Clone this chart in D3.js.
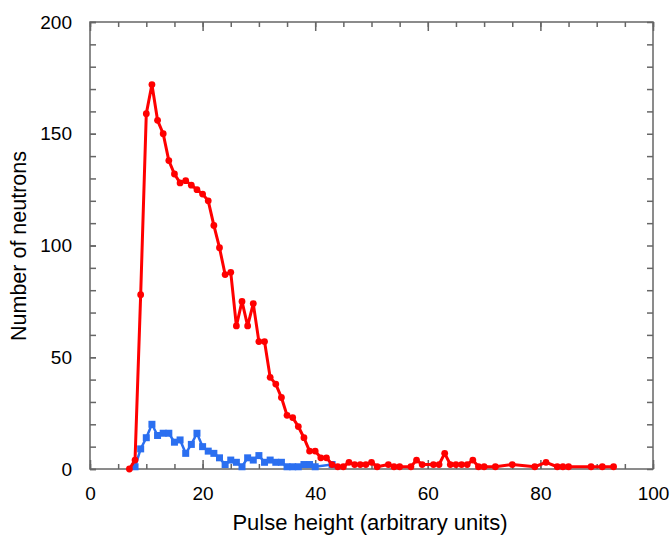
<!DOCTYPE html>
<html>
<head>
<meta charset="utf-8">
<script src="https://cdn.jsdelivr.net/npm/d3@7"></script>
<style>
  body { margin: 0; background: #fff; }
  svg { display: block; font-family: "Liberation Sans", Arial, sans-serif; }
</style>
</head>
<body>
<main></main>
<script>
// red series (circles)
var redX = [7, 8, 9, 10, 11, 12, 13, 14, 15, 16, 17, 18, 19, 20, 21, 22, 23, 24, 25, 26,
    27, 28, 29, 30, 31, 32, 33, 34, 35, 36, 37, 38, 39, 40, 41, 42, 43, 44, 45, 46,
    47, 48, 49, 50, 51, 53, 54, 55, 57, 58, 59, 61, 62, 63, 64, 65, 66, 67, 68, 69,
    70, 72, 75, 79, 81, 83, 84, 85, 89, 91, 93];
var redY = [0, 4, 78, 159, 172, 156, 150, 138, 132, 128, 129, 127, 125, 123, 120, 109, 99, 87, 88, 64,
    75, 64, 74, 57, 57, 41, 38, 32, 24, 23, 19, 14, 8, 8, 5, 5, 2, 1, 1, 3,
    2, 2, 2, 3, 1, 2, 1, 1, 1, 4, 2, 2, 2, 7, 2, 2, 2, 2, 4, 1,
    1, 1, 2, 1, 3, 1, 1, 1, 1, 1, 1];

// blue series (squares)
var blueX = [8, 9, 10, 11, 12, 13, 14, 15, 16, 17, 18, 19, 20, 21, 22, 23, 24, 25, 26, 27,
    28, 29, 30, 31, 32, 33, 34, 35, 36, 37, 38, 39, 40, 43];
var blueY = [1, 9, 14, 20, 15, 16, 16, 12, 13, 7, 11, 16, 10, 8, 7, 5, 2, 4, 3, 1,
    5, 4, 6, 3, 4, 3, 3, 1, 1, 1, 2, 2, 1, 2];

var xMajor = [0, 20, 40, 60, 80, 100];
var yMajor = [0, 50, 100, 150, 200];

var W = 670, H = 537;
var m = {l: 90, r: 17, t: 22, b: 68};
var w = W - m.l - m.r, h = H - m.t - m.b;

var svg = d3.select('main').append('svg')
    .attr('width', W)
    .attr('height', H);

var x = d3.scaleLinear().domain([0, 100]).range([0, w]);
var y = d3.scaleLinear().domain([0, 200]).range([h, 0]);

var g = svg.append('g').attr('transform', 'translate(' + m.l + ',' + m.t + ')');

// ticks on all four sides, pointing inward
const tickStyle = sel => {
    sel.select('.domain').remove();
    sel.selectAll('line').attr('stroke', '#666').attr('stroke-width', 1.5);
    sel.selectAll('text').attr('fill', '#000').style('font-size', '19px');
};

g.append('g').attr('transform', 'translate(0,' + h + ')')
    .call(d3.axisBottom(x).tickValues(d3.range(0, 101, 5)).tickSize(-5).tickFormat(''))
    .call(tickStyle);
g.append('g').attr('transform', 'translate(0,' + h + ')')
    .call(d3.axisBottom(x).tickValues(xMajor).tickSize(-9).tickPadding(18))
    .call(tickStyle);
g.append('g')
    .call(d3.axisTop(x).tickValues(d3.range(0, 101, 5)).tickSize(-5).tickFormat(''))
    .call(tickStyle);
g.append('g')
    .call(d3.axisTop(x).tickValues(xMajor).tickSize(-9).tickFormat(''))
    .call(tickStyle);

g.append('g')
    .call(d3.axisLeft(y).tickValues(d3.range(0, 201, 10)).tickSize(-6).tickFormat(''))
    .call(tickStyle);
g.append('g')
    .call(d3.axisLeft(y).tickValues(yMajor).tickSize(-6).tickPadding(18))
    .call(tickStyle);
g.append('g').attr('transform', 'translate(' + w + ',0)')
    .call(d3.axisRight(y).tickValues(d3.range(0, 201, 10)).tickSize(-6).tickFormat(''))
    .call(tickStyle);

g.append('rect')
    .attr('width', w).attr('height', h)
    .attr('fill', 'none')
    .attr('stroke', '#666')
    .attr('stroke-width', 1.5);

var blue = blueX.map((d, i) => [d, blueY[i]]);
var red = redX.map((d, i) => [d, redY[i]]);
var line = d3.line().x(d => x(d[0])).y(d => y(d[1]));

// blue
g.append('path').datum(blue)
    .attr('d', line)
    .attr('fill', 'none')
    .attr('stroke', '#2b6ff0')
    .attr('stroke-width', 2.5);
g.selectAll('.sq').data(blue).enter().append('rect')
    .attr('x', d => x(d[0]) - 3.5)
    .attr('y', d => y(d[1]) - 3.5)
    .attr('width', 7).attr('height', 7)
    .attr('fill', '#2b6ff0');

// red
g.append('path').datum(red)
    .attr('d', line)
    .attr('fill', 'none')
    .attr('stroke', '#ff0000')
    .attr('stroke-width', 3)
    .attr('stroke-linejoin', 'round');
g.selectAll('.dot').data(red).enter().append('circle')
    .attr('cx', d => x(d[0]))
    .attr('cy', d => y(d[1]))
    .attr('r', 3.4)
    .attr('fill', '#ff0000');

svg.append('text')
    .attr('x', 370)
    .attr('y', 530)
    .attr('text-anchor', 'middle')
    .style('font-size', '22px')
    .text('Pulse height (arbitrary units)');

svg.append('text')
    .attr('transform', 'translate(26,' + 246 + ') rotate(-90)')
    .attr('text-anchor', 'middle')
    .style('font-size', '21.5px')
    .text('Number of neutrons');
</script>
</body>
</html>
